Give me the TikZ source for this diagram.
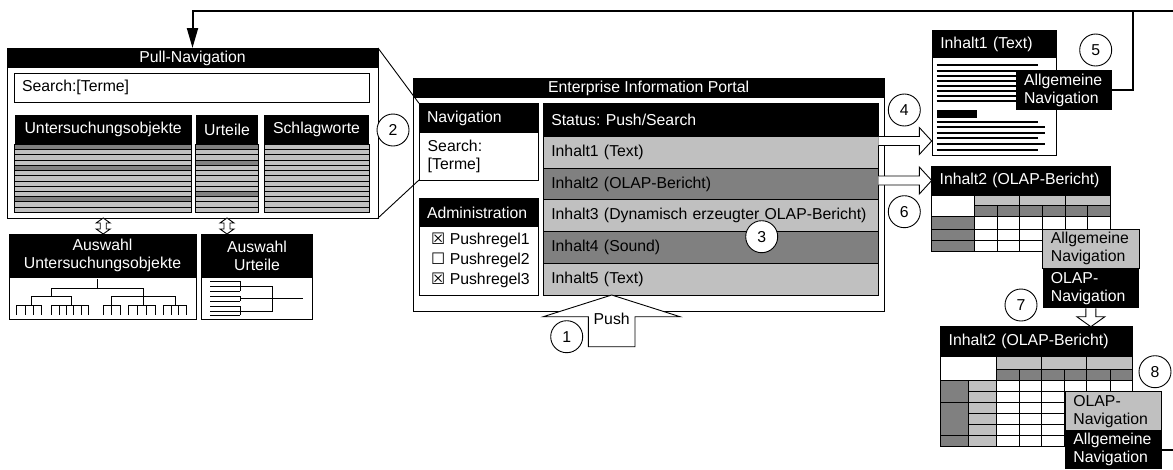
\documentclass[tikz,border=0pt]{standalone}
\usepackage{fontspec}
\setmainfont{Liberation Sans}
\newfontfamily\symfont{DejaVu Sans}
\usetikzlibrary{arrows.meta,calc}
\definecolor{lightgr}{HTML}{C0C0C0}
\definecolor{darkgr}{HTML}{808080}
\frenchspacing

\begin{document}
\begin{tikzpicture}[x=1pt,y=-1pt,
  txt/.style={font=\fontsize{15.8}{18}\selectfont},
  wh/.style 2 args={minimum width=#1pt,minimum height=#2pt},
  panel/.style={draw,line width=0.9pt,fill=white,inner sep=0pt,outer sep=0pt,anchor=north west},
  bar/.style={fill=black,text=white,inner sep=0pt,outer sep=0pt,anchor=north west,txt},
  lbar/.style={bar,inner xsep=8pt,text width=#1pt,align=left},
  row/.style={draw,line width=0.9pt,anchor=north west,inner xsep=8pt,inner ysep=0pt,outer sep=0pt,txt,text width=319pt,align=left,wh={335}{31.7}},
  num/.style={circle,draw,line width=0.9pt,fill=white,minimum size=32pt,inner sep=0pt,txt},
  hollow/.style={draw,line width=0.9pt,fill=white},
  cell/.style={draw,line width=0.8pt},
  thinline/.style={line width=0.9pt},
  textline/.style={line width=2pt},
  loopline/.style={line width=2pt}]
\useasboundingbox (0,0) rectangle (1173,469);

% Pull-Navigation
\node[panel,wh={371}{170}] (pull) at (7,48) {};
\node[bar,wh={371}{20.3}] (pulltitle) at (7,48) {Pull-Navigation};
\node[panel,wh={355}{28.7},inner xsep=8pt,text width=339pt,align=left,txt] (pullsearch) at (14,73.3) {Search:[Terme]};
\node[bar,wh={177}{29.3}] (colobj) at (14.7,115) {Untersuchungsobjekte};
\node[bar,wh={62.6}{29.3}] (colurt) at (195.7,115) {Urteile};
\node[bar,wh={105}{29.3}] (colkey) at (264,115) {Schlagworte};

% Stripes
\foreach \c in {colobj,colurt,colkey}
  \foreach \i in {0,...,12}
    \draw[cell,fill=lightgr] ($(\c.south west)+(0,{5.23*\i})$) rectangle ($(\c.south east)+(0,{5.23*(\i+1)})$);
\foreach \c/\i in {colobj/0,colobj/4,colobj/10,colurt/0,colurt/3,colurt/9}
  \draw[cell,fill=darkgr] ($(\c.south west)+(0,{5.23*\i})$) rectangle ($(\c.south east)+(0,{5.23*(\i+1)})$);

% Selection boxes
\node[panel,wh={187}{85.3}] (selobj) at (9,234) {};
\node[bar,wh={187}{43.7},align=center] (selobjtitle) at (9,234) {Auswahl\\Untersuchungsobjekte};
\node[panel,wh={110.6}{85.3}] (selurt) at (201.7,234) {};
\node[bar,wh={110.6}{43.7},align=center] (selurttitle) at (201.7,234) {Auswahl\\Urteile};

% Double arrows
\foreach \c in {colobj,colurt}
  \draw[hollow] (\c.south |- pull.south) -- ++(7,5) -- ++(-4,0) -- ++(0,6) -- ++(4,0) -- ++(-7,5)
    -- ++(-7,-5) -- ++(4,0) -- ++(0,-6) -- ++(-4,0) -- cycle;

% Tree of objects
\draw[thinline] (97.7,279) -- (97.7,288);
\draw[thinline] (51.7,296) -- (51.7,288) -- (143.3,288) -- (143.3,296);
\draw[thinline] (31,305) -- (31,296) -- (71,296) -- (71,305);
\draw[thinline] (111,305) -- (111,296) -- (175,296) -- (175,305);
\draw[thinline] (143.3,296) -- (143.3,305);
\foreach \a/\n/\w in {16.7/3/8.33,51.7/5/7.33,103.3/2/8.35,128.3/3/8.9,163.3/3/7.8} {
  \draw[thinline] (\a,305) -- ++({\n*\w},0);
  \foreach \k in {0,...,\n}
    \draw[thinline] ({\a+\k*\w},305) -- ++(0,10);
}

% Tree of judgements
\foreach \y in {281,286,291,296,301,306,311,315}
  \draw[thinline] (210,\y) -- (240,\y);
\draw[thinline] (240,281) -- (240,291);
\draw[thinline] (240,296) -- (240,301);
\draw[thinline] (240,306) -- (240,315);
\draw[thinline] (240,286) -- (272.7,286) -- (272.7,311) -- (240,311);
\draw[thinline] (240,298.5) -- (272.7,298.5) -- (303,298.5);

% Portal
\node[panel,wh={470.7}{233.4}] (portal) at (413.3,78.3) {};
\node[bar,wh={470.7}{20}] (portaltitle) at (413.3,78.3) {Enterprise Information Portal};
\node[panel,wh={119.3}{76.7}] (navbox) at (419,103.3) {};
\node[lbar=103.3,wh={119.3}{30}] (navtitle) at (419,103.3) {Navigation};
\node[txt,anchor=west,align=left,inner sep=0pt] (navsearch) at (427.5,156.7) {Search:\\{[Terme]}};
\node[panel,wh={119.3}{96.7}] (adminbox) at (419,198.3) {};
\node[lbar=103.3,wh={119.3}{28.4}] (admintitle) at (419,198.3) {Administration};
\foreach \n/\y/\mk in {1/240.7/☒,2/260.7/☐,3/280/☒}
  \node[txt,anchor=west,inner sep=0pt] (rule\n) at (431,\y) {{\symfont\mk} Pushregel\n};

\node[bar,draw,line width=0.9pt,wh={335}{33.2},inner xsep=8pt,text width=319pt,align=left] (status) at (543.3,103.3) {Status: Push/Search};
\foreach \n/\t/\c [count=\i from 0] in {1/Inhalt1 (Text)/lightgr,2/Inhalt2 (OLAP-Bericht)/darkgr,
    3/Inhalt3 (Dynamisch erzeugter OLAP-Bericht)/lightgr,4/Inhalt4 (Sound)/darkgr,5/Inhalt5 (Text)/lightgr}
  \node[row,fill=\c] (item\n) at (543.3,{136.5+31.7*\i}) {\t};

% Connection pull -> navigation
\draw[thinline] (pull.north east) -- (navbox.north west);
\draw[thinline] (pull.south east) -- (navbox.south west);

% Push arrow
\coordinate (pushtip) at ($(item5.south west)+(68.4,0)$);
\draw[hollow] (pushtip) -- ++(68.3,21.7) -- ++(-45,0) -- ++(0,30) -- ++(-46.7,0) -- ++(0,-30) -- ++(-45,0) -- cycle;
\node[txt,inner sep=0pt] (pushlbl) at ($(pushtip)+(0,24)$) {Push};

% Inhalt1 (Text)
\node[panel,wh={124.4}{125}] (doc1) at (932.3,30) {};
\node[lbar=108.4,wh={124.4}{28.3}] (doc1title) at (932.3,30) {Inhalt1 (Text)};
\foreach \y/\e in {65/1038,70.5/1045,76/1045,81/1045,86/1045,91/1045,96/1045,101/1045,121.7/1038,126.7/1045,133.3/1045,138.3/1038,144.3/1045,150/1038}
  \draw[textline] (936.7,\y) -- (\e,\y);
\fill (936.7,110) rectangle (976.7,117.7);
\node[bar,wh={96.6}{40},inner xsep=8pt,text width=80pt,align=left] (nav1) at (1015.7,70) {Allgemeine\\Navigation};

% Inhalt2 (OLAP-Bericht)
\node[panel,wh={179}{85.7}] (doc2) at (931.7,166) {};
\node[lbar=163,wh={179}{29}] (doc2title) at (931.7,166) {Inhalt2 (OLAP-Bericht)};
\draw[cell,fill=white] (931.7,195) rectangle (974.3,216.7);
\foreach \a/\b in {974.3/1019.3,1019.3/1065,1065/1110.7}
  \draw[cell,fill=lightgr] (\a,195) rectangle (\b,205);
\foreach \a/\b in {974.3/997.3,997.3/1019.3,1019.3/1042.7,1042.7/1065,1065/1087.3,1087.3/1110.7} {
  \draw[cell,fill=darkgr] (\a,205) rectangle (\b,216.7);
  \foreach \y/\z in {216.7/229,229/240.3,240.3/251.7}
    \draw[cell,fill=white] (\a,\y) rectangle (\b,\z);
}
\foreach \y/\z in {216.7/229,229/240.3,240.3/251.7}
  \draw[cell,fill=darkgr] (931.7,\y) rectangle (974.3,\z);
\node[panel,fill=lightgr,wh={96.3}{39.3},inner xsep=8pt,text width=80pt,align=left,txt] (nav2a) at (1042.7,229) {Allgemeine\\Navigation};
\node[bar,wh={96.3}{40},inner xsep=8pt,text width=80pt,align=left] (nav2b) at (1042.7,268.3) {OLAP-\\Navigation};

% Inhalt2 after OLAP navigation
\node[panel,wh={191.6}{120}] (doc3) at (940.7,326.7) {};
\node[lbar=175.6,wh={191.6}{30}] (doc3title) at (940.7,326.7) {Inhalt2 (OLAP-Bericht)};
\draw[cell,fill=white] (940.7,356.7) rectangle (996.7,380);
\foreach \a/\b in {996.7/1041.7,1041.7/1086.7,1086.7/1132.3}
  \draw[cell,fill=lightgr] (\a,356.7) rectangle (\b,369.3);
\foreach \a/\b in {996.7/1019.3,1019.3/1041.7,1041.7/1064,1064/1086.7,1086.7/1110,1110/1132.3} {
  \draw[cell,fill=darkgr] (\a,369.3) rectangle (\b,380);
  \foreach \i in {0,...,5}
    \draw[cell,fill=white] (\a,{380+11.12*\i}) rectangle (\b,{391.12+11.12*\i});
}
\foreach \i in {0,...,5}
  \draw[cell,fill=lightgr] (968.3,{380+11.12*\i}) rectangle (996.7,{391.12+11.12*\i});
\foreach \a/\b in {380/402.2,402.2/435.6,435.6/446.7}
  \draw[cell,fill=darkgr] (940.7,\a) rectangle (968.3,\b);
\node[panel,fill=lightgr,wh={96.7}{39},inner xsep=8pt,text width=80pt,align=left,txt] (nav3a) at (1065,391.7) {OLAP-\\Navigation};
\node[bar,wh={96.7}{38},inner xsep=8pt,text width=80pt,align=left] (nav3b) at (1065,430.7) {Allgemeine\\Navigation};

% Hollow arrows to the contents
\draw[hollow] (item1.north east) -- ++(41,0) -- ++(0,-9) -- ++(12.4,13.5) -- ++(-12.4,13.5) -- ++(0,-9) -- ++(-41,0);
\draw[hollow] ($(item2.east |- doc2title.west)+(0,-4.5)$) -- ++(41,0) -- ++(0,-9) -- ++(12.4,13.5) -- ++(-12.4,13.5) -- ++(0,-9) -- ++(-41,0);
\draw[hollow] ($(nav2b.south)+(-5,0)$) -- ++(0,8.4) -- ++(-9,0) -- ++(14,10) -- ++(14,-10) -- ++(-9,0) -- ++(0,-8.4);

% Feedback lines
\coordinate (topright) at (1190,11);
\coordinate (junc) at (1133,11);
\draw[loopline,-{Triangle[length=20pt,width=11pt]}] (nav3b.east) -| (topright) -| (pull.north);
\draw[loopline] (nav1.east) -| (junc);

% Step numbers
\node[num] (n1) at (566.7,336.7) {1};
\node[num] (n2) at (393,130) {2};
\node[num] (n3) at (761.7,236.7) {3};
\node[num] (n4) at (904.3,110) {4};
\node[num] (n5) at (1095.7,50) {5};
\node[num] (n6) at (904.3,211.7) {6};
\node[num] (n7) at (1021,305) {7};
\node[num] (n8) at (1155,371.7) {8};
\end{tikzpicture}
\end{document}
